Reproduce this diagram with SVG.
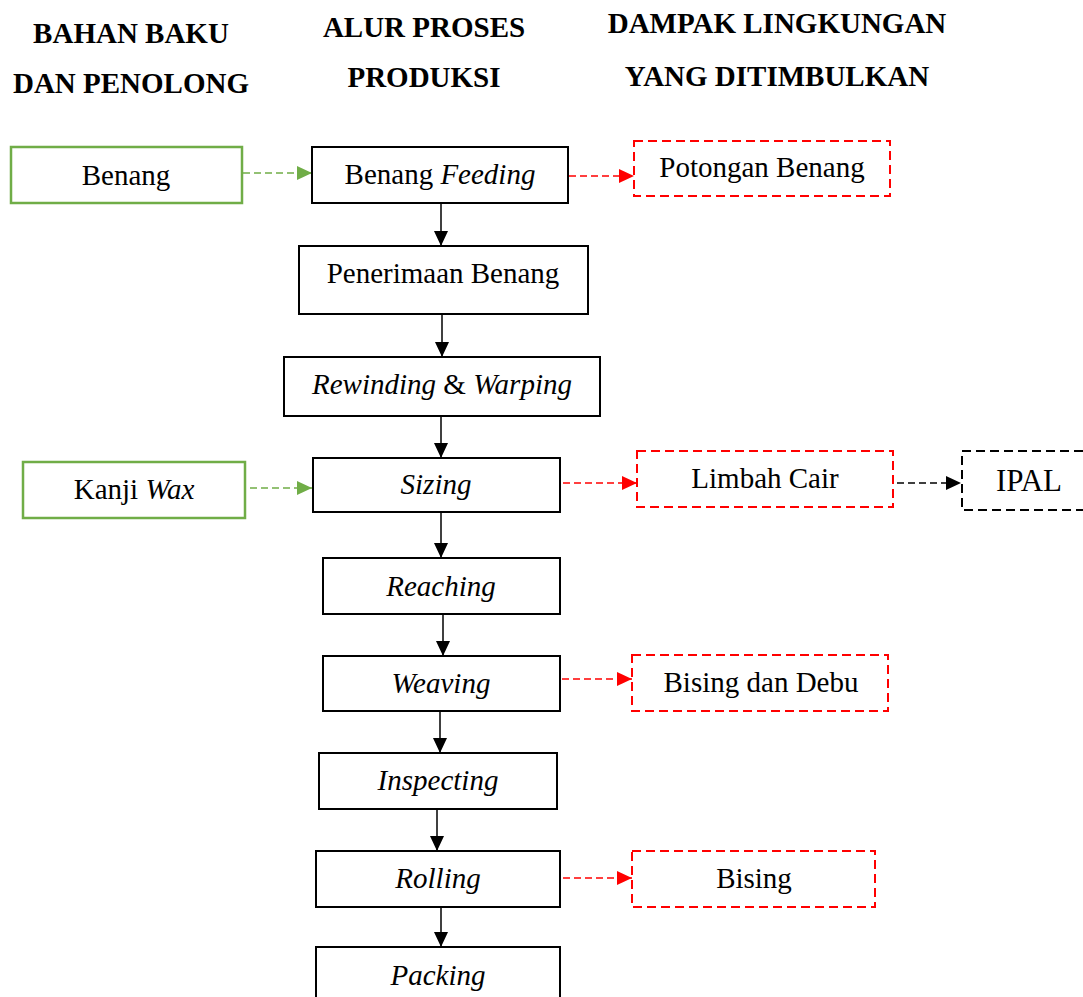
<svg xmlns="http://www.w3.org/2000/svg" width="1083" height="997" viewBox="0 0 1083 997">
<style>
text{font-family:"Liberation Serif","Times New Roman",serif;font-size:29px;fill:#000;text-anchor:middle}
.h{font-weight:bold;font-size:29px}
.i{font-style:italic}
.box{fill:#fff;stroke:#000;stroke-width:2}
.gbox{fill:#fff;stroke:#70AD47;stroke-width:2.5}
.rbox{fill:#fff;stroke:#FF0000;stroke-width:2;stroke-dasharray:9,5}
.kbox{fill:#fff;stroke:#000;stroke-width:2;stroke-dasharray:9,5}
.ln{stroke:#000;stroke-width:1.5;fill:none}
.gln{stroke:#70AD47;stroke-width:1.5;fill:none;stroke-dasharray:7,4}
.rln{stroke:#FF0000;stroke-width:1.5;fill:none;stroke-dasharray:7,4}
.kln{stroke:#000;stroke-width:1.5;fill:none;stroke-dasharray:7,4}
</style>
<defs>
<marker id="ak" markerUnits="userSpaceOnUse" markerWidth="16" markerHeight="14" refX="15" refY="7" orient="auto"><path d="M0,0 L15,7 L0,14 Z" fill="#000"/></marker>
<marker id="ag" markerUnits="userSpaceOnUse" markerWidth="16" markerHeight="14" refX="15" refY="7" orient="auto"><path d="M0,0 L15,7 L0,14 Z" fill="#70AD47"/></marker>
<marker id="ar" markerUnits="userSpaceOnUse" markerWidth="16" markerHeight="14" refX="15" refY="7" orient="auto"><path d="M0,0 L15,7 L0,14 Z" fill="#FF0000"/></marker>
</defs>
<g id="headers">
<text class="h" x="131" y="43">BAHAN BAKU</text>
<text class="h" x="131" y="93">DAN PENOLONG</text>
<text class="h" x="424" y="37">ALUR PROSES</text>
<text class="h" x="424" y="87">PRODUKSI</text>
<text class="h" x="777" y="33">DAMPAK LINGKUNGAN</text>
<text class="h" x="777" y="86">YANG DITIMBULKAN</text>
</g>
<g id="connectors">
<line class="gln" x1="243" y1="173" x2="312" y2="173" marker-end="url(#ag)"/>
<line class="rln" x1="569" y1="176" x2="634" y2="176" marker-end="url(#ar)"/>
<line class="ln" x1="441" y1="203" x2="441" y2="246" marker-end="url(#ak)"/>
<line class="ln" x1="442" y1="314" x2="442" y2="357" marker-end="url(#ak)"/>
<line class="ln" x1="441" y1="416" x2="441" y2="458" marker-end="url(#ak)"/>
<line class="gln" x1="250" y1="488" x2="312" y2="488" marker-end="url(#ag)"/>
<line class="rln" x1="563" y1="483" x2="637" y2="483" marker-end="url(#ar)"/>
<line class="kln" x1="897" y1="483" x2="961" y2="483" marker-end="url(#ak)"/>
<line class="ln" x1="441" y1="512" x2="441" y2="558" marker-end="url(#ak)"/>
<line class="ln" x1="443" y1="614" x2="443" y2="656" marker-end="url(#ak)"/>
<line class="rln" x1="562" y1="679" x2="632" y2="679" marker-end="url(#ar)"/>
<line class="ln" x1="440" y1="711" x2="440" y2="753" marker-end="url(#ak)"/>
<line class="ln" x1="437" y1="809" x2="437" y2="851" marker-end="url(#ak)"/>
<line class="rln" x1="563" y1="878" x2="632" y2="878" marker-end="url(#ar)"/>
<line class="ln" x1="441" y1="907" x2="441" y2="947" marker-end="url(#ak)"/>
</g>
<g id="n-benang"><rect class="gbox" x="11" y="147" width="231" height="56"/><text x="126" y="185">Benang</text></g>
<g id="n-feeding"><rect class="box" x="312" y="147" width="256" height="56"/><text x="440" y="184">Benang <tspan class="i">Feeding</tspan></text></g>
<g id="n-potongan"><rect class="rbox" x="634" y="141" width="256" height="55"/><text x="762" y="177">Potongan Benang</text></g>
<g id="n-penerimaan"><rect class="box" x="299" y="246" width="289" height="68"/><text x="443" y="283">Penerimaan Benang</text></g>
<g id="n-rewinding"><rect class="box" x="284" y="357" width="316" height="59"/><text x="442" y="394"><tspan class="i">Rewinding</tspan> &amp; <tspan class="i">Warping</tspan></text></g>
<g id="n-kanji"><rect class="gbox" x="23" y="462" width="222" height="56"/><text x="134" y="499">Kanji <tspan class="i">Wax</tspan></text></g>
<g id="n-sizing"><rect class="box" x="313" y="458" width="247" height="54"/><text x="436" y="494" class="i">Sizing</text></g>
<g id="n-limbah"><rect class="rbox" x="637" y="451" width="256" height="56"/><text x="765" y="488">Limbah Cair</text></g>
<g id="n-ipal"><rect class="kbox" x="962" y="451" width="130" height="59"/><text x="1029" y="491" style="font-size:31px">IPAL</text></g>
<g id="n-reaching"><rect class="box" x="323" y="558" width="237" height="56"/><text x="441" y="596" class="i">Reaching</text></g>
<g id="n-weaving"><rect class="box" x="323" y="656" width="237" height="55"/><text x="441" y="693" class="i">Weaving</text></g>
<g id="n-bisingdebu"><rect class="rbox" x="632" y="655" width="256" height="56"/><text x="761" y="692">Bising dan Debu</text></g>
<g id="n-inspecting"><rect class="box" x="319" y="753" width="238" height="56"/><text x="438" y="790" class="i">Inspecting</text></g>
<g id="n-rolling"><rect class="box" x="316" y="851" width="244" height="56"/><text x="438" y="888" class="i">Rolling</text></g>
<g id="n-bising"><rect class="rbox" x="632" y="851" width="243" height="56"/><text x="754" y="888">Bising</text></g>
<g id="n-packing"><rect class="box" x="316" y="947" width="244" height="60"/><text x="438" y="985" class="i">Packing</text></g>
</svg>
